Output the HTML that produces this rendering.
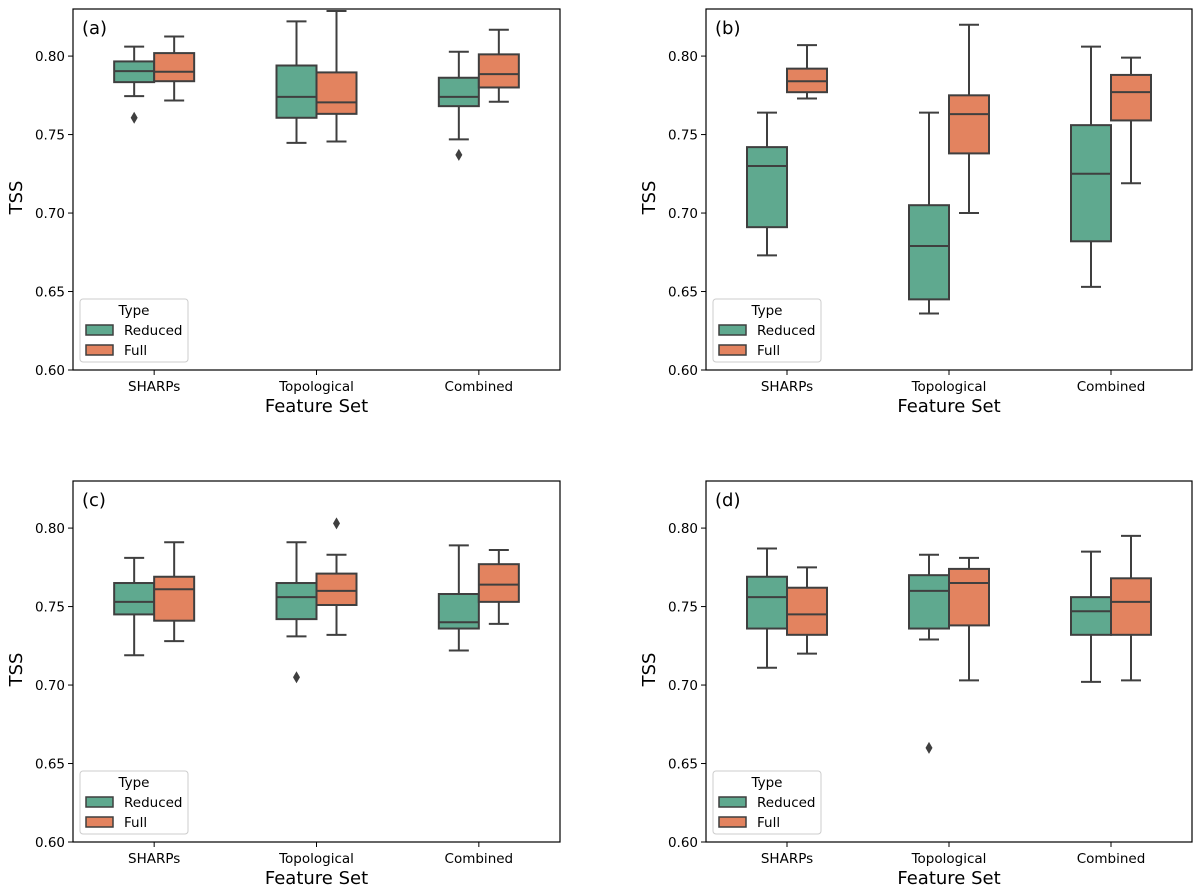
<!DOCTYPE html>
<html><head><meta charset="utf-8">
<style>
html,body{margin:0;padding:0;background:#fff;}
svg{display:block;font-family:"DejaVu Sans","Liberation Sans",sans-serif;}
</style></head>
<body>
<svg id="chart" width="1200" height="893" viewBox="0 0 1200 893"></svg>
<script>
const categories = ["SHARPs","Topological","Combined"];
const hues = ["Reduced","Full"];
const yTicks = [0.60,0.65,0.70,0.75,0.80];
const panelLabels = ["(a)","(b)","(c)","(d)"];
// each box: [whiskerHigh, q3, median, q1, whiskerLow]
const panelA = [
  [[0.806,0.7966,0.7904,0.7834,0.7745],[0.8125,0.8019,0.790,0.784,0.7717]],
  [[0.8221,0.794,0.774,0.7607,0.7447],[0.8287,0.7896,0.7705,0.7632,0.7456]],
  [[0.8028,0.7862,0.774,0.7681,0.7469],[0.8168,0.8011,0.7885,0.780,0.7709]]
];
const panelB = [
  [[0.764,0.742,0.730,0.691,0.673],[0.807,0.792,0.784,0.777,0.773]],
  [[0.764,0.705,0.679,0.645,0.636],[0.820,0.775,0.763,0.738,0.700]],
  [[0.806,0.756,0.725,0.682,0.653],[0.799,0.788,0.777,0.759,0.719]]
];
const panelC = [
  [[0.781,0.765,0.753,0.745,0.719],[0.791,0.769,0.761,0.741,0.728]],
  [[0.791,0.765,0.756,0.742,0.731],[0.783,0.771,0.760,0.751,0.732]],
  [[0.789,0.758,0.740,0.736,0.722],[0.786,0.777,0.764,0.753,0.739]]
];
const panelD = [
  [[0.787,0.769,0.756,0.736,0.711],[0.775,0.762,0.745,0.732,0.720]],
  [[0.783,0.770,0.760,0.736,0.729],[0.781,0.774,0.765,0.738,0.703]],
  [[0.785,0.756,0.747,0.732,0.702],[0.795,0.768,0.753,0.732,0.703]]
];
// outliers: [categoryIndex, hueIndex, value]
const outliersA = [[0,0,0.7607],[2,0,0.7371]];
const outliersB = [];
const outliersC = [[1,0,0.705],[1,1,0.803]];
const outliersD = [[1,0,0.660]];

const panelsData = [panelA,panelB,panelC,panelD];
const panelsOut = [outliersA,outliersB,outliersC,outliersD];
const colors = ["#5fa98f","#e3835f"];
const NS = "http://www.w3.org/2000/svg";
const svg = document.getElementById("chart");
function mk(tag, attrs, parent, text){
  const e = document.createElementNS(NS, tag);
  for (const k in attrs) e.setAttribute(k, attrs[k]);
  if (text !== undefined) e.textContent = text;
  parent.appendChild(e); return e;
}
const frames = [[73,9,560,370],[706,9,1192,370],[73,481,560,842],[706,481,1192,842]];
const yMin = 0.60, yMax = 0.83;
frames.forEach((f, pi) => {
  const [L,T,R,B] = f;
  const g = mk("g", {}, svg);
  
  
  const y = v => B - (v - yMin) / (yMax - yMin) * (B - T);
  const step = (R - L) / 3;
  const xc = i => L + step * (i + 0.5);
  const boxW = 40;
  // y ticks
  yTicks.forEach(t => {
    const yy = y(t);
    const ln = mk("line", {x1:L-5,x2:L,y1:yy,y2:yy,stroke:"#000","stroke-width":1}, g);
    
    
    const tx = mk("text", {x:L-8,y:yy+5,"text-anchor":"end","font-size":13.5,fill:"#000"}, g, t.toFixed(2));
    
    
  });
  categories.forEach((c, i) => {
    const ln = mk("line", {x1:xc(i),x2:xc(i),y1:B,y2:B+5,stroke:"#000","stroke-width":1}, g);
    
    
    const tx = mk("text", {x:xc(i),y:B+21,"text-anchor":"middle","font-size":13.5,fill:"#000"}, g, c);
    
    
  });
  const xl = mk("text", {x:(L+R)/2,y:B+42,"text-anchor":"middle","font-size":18,fill:"#000"}, g, "Feature Set");
  
  
  const yl = mk("text", {x:0,y:0,"text-anchor":"middle","font-size":18,fill:"#000",transform:`translate(${L-51},${(T+B)/2+8}) rotate(-90)`}, g, "TSS");
  
  
  // boxes
  const data = panelsData[pi];
  data.forEach((pair, ci) => {
    pair.forEach((b, hi) => {
      const x0 = xc(ci) + (hi === 0 ? -boxW : 0);
      const mid = x0 + boxW/2;
      const [wh,q3,md,q1,wl] = b;
      const bg = mk("g", {}, g);
      
      
      const st = {stroke:"#3f3f3f","stroke-width":2};
      mk("line", Object.assign({x1:mid,x2:mid,y1:y(wh),y2:y(q3)}, st), bg);
      mk("line", Object.assign({x1:mid,x2:mid,y1:y(q1),y2:y(wl)}, st), bg);
      mk("line", Object.assign({x1:mid-10,x2:mid+10,y1:y(wh),y2:y(wh)}, st), bg);
      mk("line", Object.assign({x1:mid-10,x2:mid+10,y1:y(wl),y2:y(wl)}, st), bg);
      mk("rect", Object.assign({x:x0,y:y(q3),width:boxW,height:y(q1)-y(q3),fill:colors[hi]}, st), bg);
      mk("line", Object.assign({x1:x0,x2:x0+boxW,y1:y(md),y2:y(md)}, st), bg);
    });
  });
  panelsOut[pi].forEach(o => {
    const [ci,hi,v] = o;
    const cx = xc(ci) + (hi === 0 ? -boxW/2 : boxW/2), cy = y(v);
    const p = mk("path", {d:`M${cx},${cy-6} L${cx+3.5},${cy} L${cx},${cy+6} L${cx-3.5},${cy} Z`, fill:"#3f3f3f"}, g);
    
    
  });
  // frame
  const fr = mk("rect", {x:L,y:T,width:R-L,height:B-T,fill:"none",stroke:"#000","stroke-width":1.2}, g);
  
  
  const pl = mk("text", {x:L+9,y:T+25,"font-size":18,fill:"#000"}, g, panelLabels[pi]);
  
  
  // legend
  const lg = mk("g", {}, g);
  
  
  mk("rect", {x:L+7,y:B-71,width:108,height:63,rx:3,fill:"#fff",stroke:"#ccc","stroke-width":1}, lg);
  mk("text", {x:L+61,y:B-55,"text-anchor":"middle","font-size":13.5,fill:"#000"}, lg, "Type");
  hues.forEach((h, hi) => {
    const yy = B - 45 + hi*20;
    const e = mk("g", {}, lg);
    
    
    mk("rect", {x:L+13,y:yy,width:27,height:10,fill:colors[hi],stroke:"#3f3f3f","stroke-width":1.5}, e);
    mk("text", {x:L+51,y:yy+10,"font-size":13.5,fill:"#000"}, e, h);
  });
});
</script>
</body></html>
